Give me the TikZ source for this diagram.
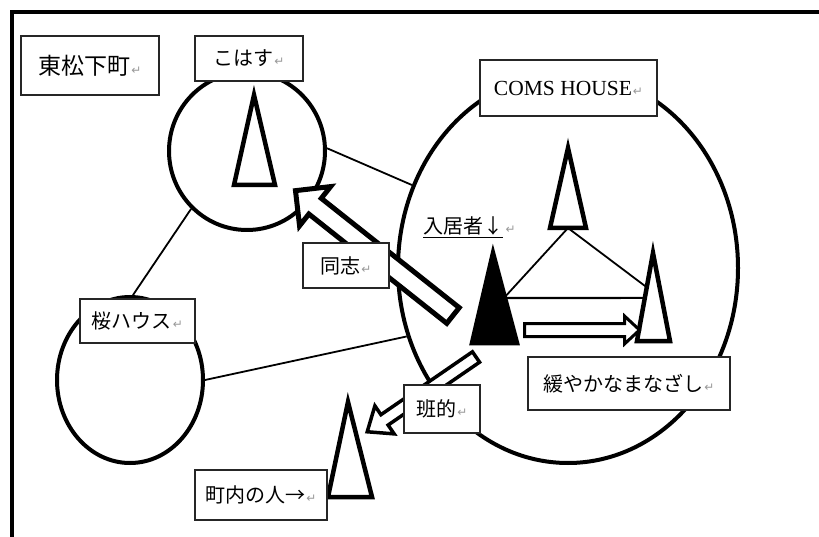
\documentclass[tikz,border=0pt]{standalone}
\usepackage{fontspec}
\setmainfont{Liberation Serif}
\newfontfamily\jp{Noto Sans CJK JP}
\newfontfamily\dv{DejaVu Sans}
\usetikzlibrary{shapes.geometric,calc}
\newcommand{\pmark}{{\dv\fontsize{12}{12}\selectfont\color{gray!80}\kern1pt↵}}
% #1 tail point, #2 angle, #3 length, #4 shaft half width, #5 head half width, #6 head length, #7 line width
\newcommand{\hollowarrow}[7]{%
  \draw[blk=#7, shift={#1}, rotate=#2] (0,-#4) -- (#3-#6,-#4) -- (#3-#6,-#5) -- (#3,0) -- (#3-#6,#5) -- (#3-#6,#4) -- (0,#4) -- cycle;}
\tikzset{
  lbl/.style={draw=black!85, line width=1.3, fill=white, inner sep=0, font={\jp\fontsize{20}{20}\selectfont}},
  circ/.style={draw, ellipse, line width=4, inner sep=0},
  tri/.style={draw, line width=4.5, line join=miter, fill=white},
  link/.style={line width=1.8},
  blk/.style={draw, line width=#1, fill=white, line join=miter},
}
\begin{document}
\begin{tikzpicture}[x=1pt,y=-1pt]
\useasboundingbox (0,0) rectangle (819,537);
% frame
\draw[line width=4.5] (819,12) -- (12,12) -- (12,537);

% circles
\node[circ, minimum width=156, minimum height=158] (kohasu) at (247,151) {};
\node[circ, minimum width=340, minimum height=390] (coms) at (568,268) {};
\node[circ, minimum width=146, minimum height=166] (sakura) at (130,380) {};

% links between circles
\draw[link] (kohasu.2) -- (coms.152);
\draw[link] (kohasu.226) -- (sakura.88);
\draw[link] (sakura.0) -- (coms.203);

% triangle coordinates
\coordinate (t0a) at (254,95);  \coordinate (t0l) at (234,185); \coordinate (t0r) at (275,185);
\coordinate (t1a) at (568,148); \coordinate (t1l) at (550,228); \coordinate (t1r) at (586,228);
\coordinate (t2a) at (493,253); \coordinate (t2l) at (472,343); \coordinate (t2r) at (517,343);
\coordinate (t3a) at (653,253); \coordinate (t3l) at (637,341); \coordinate (t3r) at (670,341);
\coordinate (t4a) at (348,402); \coordinate (t4l) at (328,497); \coordinate (t4r) at (372,497);

\coordinate (t1m) at ($(t1l)!0.5!(t1r)$);
\coordinate (t2p) at ($(t2a)!0.49!(t2r)$);
\coordinate (t2q) at ($(t2a)!0.5!(t2r)$);
\coordinate (t3p) at ($(t3a)!0.39!(t3l)$);
\coordinate (t3q) at ($(t3a)!0.51!(t3l)$);

\draw[link] (t2p) -- (t1m) -- (t3p);
\draw[link, line width=2.2] (t2q) -- (t3q);

% triangles
\draw[tri] (t0a) -- (t0r) -- (t0l) -- cycle;
\draw[tri] (t1a) -- (t1r) -- (t1l) -- cycle;
\draw[tri, fill=black] (t2a) -- (t2r) -- (t2l) -- cycle;
\draw[tri] (t3a) -- (t3r) -- (t3l) -- cycle;
\draw[tri] (t4a) -- (t4r) -- (t4l) -- cycle;

% block arrows
\hollowarrow{(453,315.5)}{141.6}{201}{10}{25}{25}{5}
\hollowarrow{(476,357)}{214.5}{132}{6.3}{17}{21}{3.5}
\hollowarrow{(524.5,330)}{0}{115}{6.5}{14}{15}{3}

% text
\node[inner sep=0, anchor=base west, font={\jp\fontsize{20}{20}\selectfont}] (res) at (423,234) {入居者↓};
\node[inner sep=0, anchor=base west] (resm) at ([xshift=1]res.base east) {\pmark};
\draw[line width=1.3] ($(res.base west)+(0,3.5)$) -- ($(res.base east)+(0,3.5)$);

% label boxes
\node[lbl, font={\jp\fontsize{23}{23}\selectfont}, minimum width=138, minimum height=59] (higashi) at (90,65.5) {東松下町\pmark};
\node[lbl, minimum width=108, minimum height=45] (kohasul) at (249,58.5) {こはす\pmark};
\node[lbl, font={\fontsize{21.5}{21.5}\selectfont}, minimum width=177, minimum height=56] (comsl) at (568.5,88) {COMS HOUSE\pmark};
\node[lbl, minimum width=86, minimum height=45] (doshi) at (346,265.5) {同志\pmark};
\node[lbl, minimum width=115, minimum height=44] (sakural) at (137.5,321) {桜ハウス\pmark};
\node[lbl, minimum width=76, minimum height=48] (han) at (442,409) {班的\pmark};
\node[lbl, minimum width=202, minimum height=53] (yuru) at (629,383.5) {緩やかなまなざし\pmark};
\node[lbl, minimum width=132, minimum height=50] (chonai) at (261,495) {町内の人→\pmark};
\end{tikzpicture}
\end{document}
